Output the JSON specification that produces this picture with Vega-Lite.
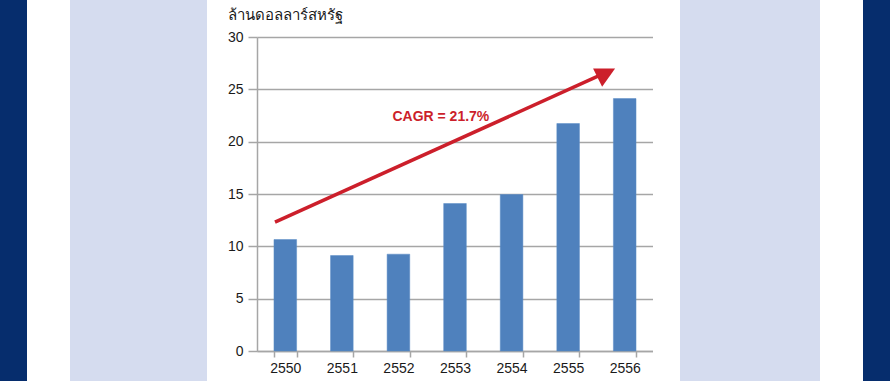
{
  "$schema": "https://vega.github.io/schema/vega-lite/v6.json",
  "padding": 0,
  "background": "#ffffff",
  "config": {
    "view": {"stroke": null},
    "font": "Liberation Sans",
    "axis": {"labelFont": "Liberation Sans", "titleFont": "Liberation Sans"}
  },
  "datasets": {
    "sales": [
      {"year": "2550", "value": 10.65},
      {"year": "2551", "value": 9.12},
      {"year": "2552", "value": 9.25},
      {"year": "2553", "value": 14.09},
      {"year": "2554", "value": 14.95},
      {"year": "2555", "value": 21.73},
      {"year": "2556", "value": 24.12}
    ],
    "trend": [
      {"pos": 0.318, "value": 12.31},
      {"pos": 6.116, "value": 26.47}
    ],
    "head": [
      {"pos": 6.33, "value": 26.98}
    ],
    "note": [
      {"pos": 3.25, "value": 22.4, "label": "CAGR = 21.7%"}
    ],
    "blank": [{}]
  },
  "hconcat": [
    {"width": 27, "height": 381, "view": {"fill": "#062d6d", "stroke": null}, "data": {"name": "blank"}, "mark": {"type": "point", "opacity": 0}, "encoding": {}},
    {"width": 43, "height": 381, "view": {"fill": "#ffffff", "stroke": null}, "data": {"name": "blank"}, "mark": {"type": "point", "opacity": 0}, "encoding": {}},
    {"width": 137, "height": 381, "view": {"fill": "#d5dcef", "stroke": null}, "data": {"name": "blank"}, "mark": {"type": "point", "opacity": 0}, "encoding": {}},
    {"width": 20, "height": 381, "view": {"fill": "#ffffff", "stroke": null}, "data": {"name": "blank"}, "mark": {"type": "point", "opacity": 0}, "encoding": {}},
    {
      "vconcat": [
        {"width": 396, "height": 7, "data": {"name": "blank"}, "mark": {"type": "point", "opacity": 0}, "encoding": {}},
        {
          "width": 396,
          "height": 314,
          "layer": [
            {
              "data": {"name": "sales"},
              "mark": {"type": "bar", "color": "#4f81bd", "stroke": "#5b8cc6", "strokeWidth": 0.5},
              "encoding": {
                "x": {
                  "field": "year", "type": "ordinal",
                  "scale": {"paddingInner": 0.6, "paddingOuter": 0.3},
                  "axis": {
                    "title": null, "labelAngle": 0, "labelFontSize": 14, "labelColor": "#1a1a1a",
                    "tickBand": "extent", "tickSize": 6, "tickColor": "#a6a6a6", "tickWidth": 1.5,
                    "domainColor": "#a6a6a6", "domainWidth": 1.5, "labelPadding": 4, "grid": false
                  }
                },
                "y": {
                  "field": "value", "type": "quantitative",
                  "scale": {"domain": [0, 30], "nice": false},
                  "axis": {
                    "values": [0, 5, 10, 15, 20, 25, 30],
                    "title": "ล้านดอลลาร์สหรัฐ", "titleAngle": 0, "titleAlign": "left", "titleBaseline": "middle",
                    "titleX": -30, "titleY": -23, "titleFontSize": 15, "titleFontWeight": "normal", "titleColor": "#1a1a1a",
                    "labelFontSize": 14, "labelColor": "#1a1a1a", "labelPadding": 5,
                    "tickSize": 9, "tickColor": "#a6a6a6", "tickWidth": 1.5,
                    "domainColor": "#a6a6a6", "domainWidth": 1.5,
                    "grid": true, "gridColor": "#a6a6a6", "gridWidth": 1.5
                  }
                }
              }
            },
            {
              "data": {"name": "trend"},
              "mark": {"type": "line", "color": "#cc1f2b", "strokeWidth": 3.5},
              "encoding": {
                "x": {"field": "pos", "type": "quantitative", "scale": {"domain": [0, 7], "nice": false, "zero": false}, "axis": null},
                "y": {"field": "value", "type": "quantitative"}
              }
            },
            {
              "data": {"name": "head"},
              "mark": {"type": "point", "shape": "M0,0 L-1,0 L-0.59,0.82 Z", "size": 1936, "filled": true, "color": "#cc1f2b", "opacity": 1, "strokeWidth": 0},
              "encoding": {
                "x": {"field": "pos", "type": "quantitative", "scale": {"domain": [0, 7], "nice": false, "zero": false}, "axis": null},
                "y": {"field": "value", "type": "quantitative"}
              }
            },
            {
              "data": {"name": "note"},
              "mark": {"type": "text", "color": "#cc1f2b", "fontSize": 14, "fontWeight": "bold", "align": "center", "baseline": "middle"},
              "encoding": {
                "x": {"field": "pos", "type": "quantitative", "scale": {"domain": [0, 7], "nice": false, "zero": false}, "axis": null},
                "y": {"field": "value", "type": "quantitative"},
                "text": {"field": "label"}
              }
            }
          ],
          "resolve": {"scale": {"x": "independent"}, "axis": {"x": "independent"}}
        },
        {"width": 396, "height": 6, "data": {"name": "blank"}, "mark": {"type": "point", "opacity": 0}, "encoding": {}}
      ],
      "spacing": 0
    },
    {"width": 27, "height": 381, "view": {"fill": "#ffffff", "stroke": null}, "data": {"name": "blank"}, "mark": {"type": "point", "opacity": 0}, "encoding": {}},
    {"width": 140, "height": 381, "view": {"fill": "#d5dcef", "stroke": null}, "data": {"name": "blank"}, "mark": {"type": "point", "opacity": 0}, "encoding": {}},
    {"width": 43, "height": 381, "view": {"fill": "#ffffff", "stroke": null}, "data": {"name": "blank"}, "mark": {"type": "point", "opacity": 0}, "encoding": {}},
    {"width": 27, "height": 381, "view": {"fill": "#062d6d", "stroke": null}, "data": {"name": "blank"}, "mark": {"type": "point", "opacity": 0}, "encoding": {}}
  ],
  "spacing": 0
}
